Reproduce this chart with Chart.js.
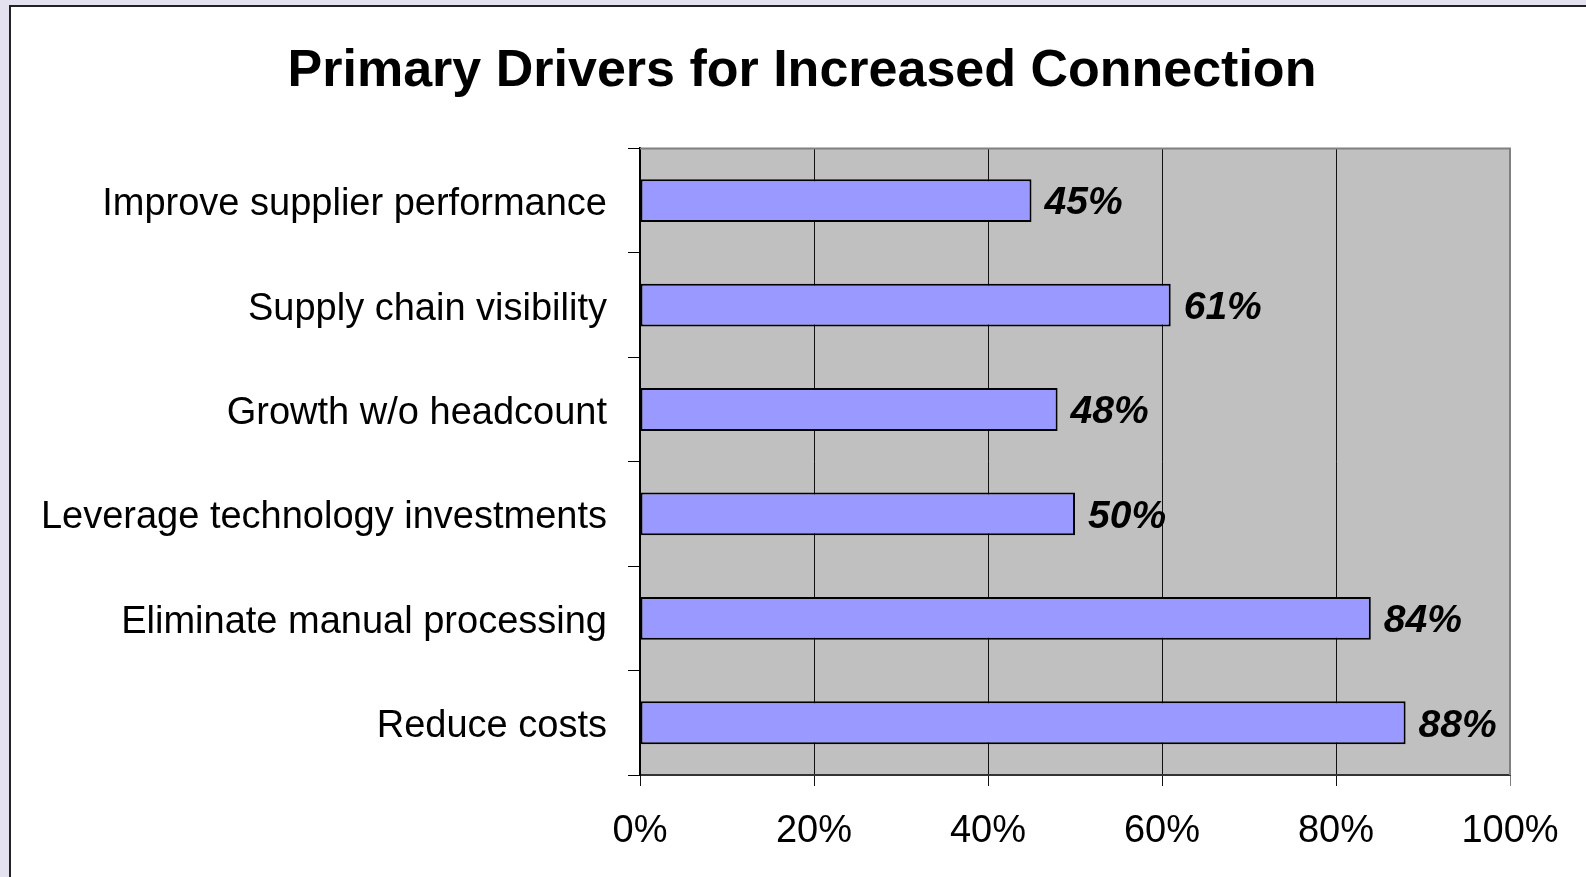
<!DOCTYPE html>
<html>
<head>
<meta charset="utf-8">
<title>Primary Drivers for Increased Connection</title>
<script src="https://cdn.jsdelivr.net/npm/chart.js@4.4.1/dist/chart.umd.min.js"></script>
<style>
    html, body { margin: 0; padding: 0; overflow: hidden; background: #e4e2ee; }
    #frame {
        position: absolute; left: 9px; top: 5px; width: 1600px; height: 900px;
        background: #fff; border-left: 2px solid #222; border-top: 2px solid #222;
    }
    #chart { position: absolute; left: 0; top: 0; }
</style>
</head>
<body>
<div id="frame"></div>
<canvas id="chart" width="1586" height="877"></canvas>
<script>
var drivers = [
    "Improve supplier performance",
    "Supply chain visibility",
    "Growth w/o headcount",
    "Leverage technology investments",
    "Eliminate manual processing",
    "Reduce costs"
];
var percents = [45, 61, 48, 50, 84, 88];
var xTicks = [0, 20, 40, 60, 80, 100];

var fontName = "'Liberation Sans', Arial, sans-serif";

// grey plot background and the top / right border
var plotBox = {
    id: 'plotBox',
    afterLayout: function (chart) {
        // title is centred a bit right of the canvas middle in the original
        chart.titleBlock.left = 94;
        chart.titleBlock.right = 1510;
        chart.titleBlock.width = 1510 - 94;
    },
    beforeDraw: function (chart) {
        var ctx = chart.ctx, a = chart.chartArea;
        ctx.save();
        ctx.fillStyle = '#c0c0c0';
        ctx.fillRect(a.left, a.top, a.right - a.left, a.bottom - a.top);
        ctx.restore();
    },
    afterDraw: function (chart) {
        var ctx = chart.ctx, a = chart.chartArea;
        ctx.save();
        ctx.strokeStyle = '#808080';
        ctx.lineWidth = 2;
        ctx.beginPath();
        ctx.moveTo(a.left, a.top);
        ctx.lineTo(a.right, a.top);
        ctx.lineTo(a.right, a.bottom);
        ctx.stroke();
        ctx.restore();
    }
};

// bold italic value next to each bar
var valueLabels = {
    id: 'valueLabels',
    afterDatasetsDraw: function (chart) {
        var ctx = chart.ctx;
        var meta = chart.getDatasetMeta(0);
        ctx.save();
        ctx.font = "italic bold 39px " + fontName;
        ctx.fillStyle = '#000';
        ctx.textAlign = 'left';
        ctx.textBaseline = 'middle';
        meta.data.forEach(function (bar, i) {
            ctx.fillText(percents[i] + '%', bar.x + 13, bar.y + 3);
        });
        ctx.restore();
    }
};

var chart = new Chart(document.getElementById('chart'), {
    type: 'bar',
    data: {
        labels: drivers,
        datasets: [{
            data: percents,
            backgroundColor: '#9999ff',
            borderColor: '#000',
            borderWidth: 2,
            borderSkipped: false,
            categoryPercentage: 1,
            barPercentage: 0.41
        }]
    },
    options: {
        indexAxis: 'y',
        responsive: false,
        animation: false,
        devicePixelRatio: 1,
        layout: { padding: { left: 0, right: 76, top: 0, bottom: 0 } },
        plugins: {
            legend: { display: false },
            tooltip: { enabled: false },
            title: {
                display: true,
                text: 'Primary Drivers for Increased Connection',
                color: '#000',
                font: { family: fontName, size: 52, weight: 'bold' },
                padding: { top: 40, bottom: 46 }
            }
        },
        scales: {
            x: {
                min: xTicks[0],
                max: xTicks[xTicks.length - 1],
                afterBuildTicks: function (axis) {
                    axis.ticks = xTicks.map(function (v) { return { value: v }; });
                },
                afterFit: function (axis) { axis.height = 102; },
                ticks: {
                    color: '#000',
                    padding: 23,
                    font: { family: fontName, size: 38 },
                    callback: function (v) { return v + '%'; }
                },
                grid: {
                    color: function (c) { return c.tick && c.tick.value === 100 ? '#808080' : '#111'; },
                    lineWidth: 1,
                    tickLength: 11
                },
                border: { color: '#333', width: 2 }
            },
            y: {
                afterFit: function (axis) { axis.width = 640; },
                ticks: {
                    color: '#000',
                    padding: 21,
                    labelOffset: 4,
                    font: { family: fontName, size: 38 }
                },
                grid: {
                    drawOnChartArea: false,
                    drawTicks: true,
                    tickLength: 12,
                    color: '#000',
                    offset: true
                },
                border: { color: '#000', width: 2 }
            }
        }
    },
    plugins: [plotBox, valueLabels]
});
</script>
</body>
</html>
